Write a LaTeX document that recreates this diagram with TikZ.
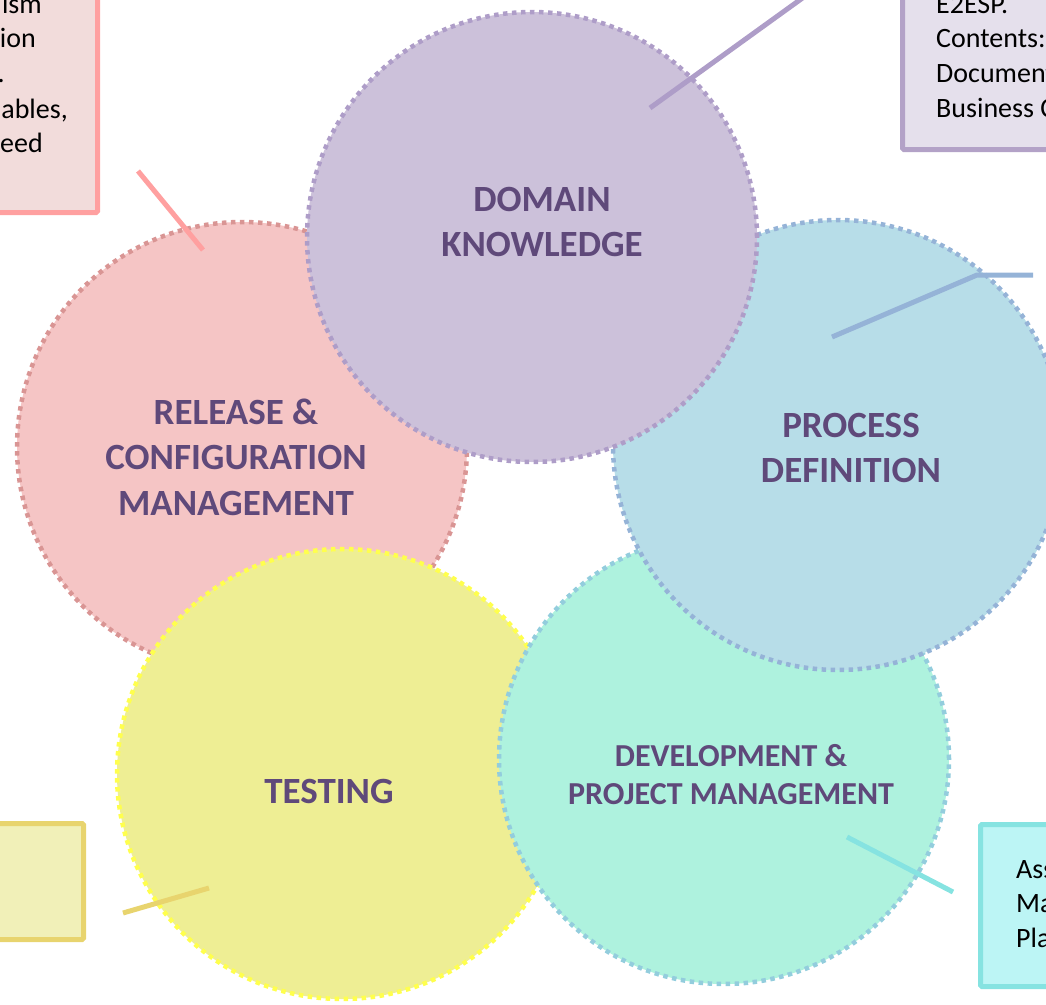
\documentclass[tikz,border=0pt]{standalone}
\usepackage{fontspec}
\setmainfont{Carlito}
\definecolor{txtc}{HTML}{5F497A}
\definecolor{pinkf}{HTML}{F2DCDB}
\definecolor{pinkb}{HTML}{FFA0A0}
\definecolor{purpf}{HTML}{E5E0EC}
\definecolor{purpb}{HTML}{B3A2C7}
\definecolor{cyanf}{HTML}{BCF5F5}
\definecolor{cyanb}{HTML}{86E3E1}
\definecolor{yelf}{HTML}{F1F0B8}
\definecolor{yelb}{HTML}{E8D46E}
\definecolor{domf}{HTML}{CCC1DA}
\definecolor{domb}{HTML}{AE9DC8}
\definecolor{relf}{HTML}{F5C5C5}
\definecolor{relb}{HTML}{D99594}
\definecolor{procf}{HTML}{B7DDE8}
\definecolor{procb}{HTML}{95B3D7}
\definecolor{devf}{HTML}{AEF2DE}
\definecolor{devb}{HTML}{93CDDD}
\definecolor{testf}{HTML}{EEEE94}
\definecolor{testb}{HTML}{FFFF4D}
\begin{document}
\begin{tikzpicture}[x=1pt,y=-1pt,
  circ/.style={circle, minimum size=450pt, inner sep=0pt, line width=4.5pt, dash pattern=on 4.5pt off 4.5pt},
  lbl/.style={text=txtc, font=\fontsize{37}{45.5}\selectfont\bfseries, align=center, inner sep=0pt},
  lbls/.style={text=txtc, font=\fontsize{32}{38}\selectfont\bfseries, align=center, inner sep=0pt},
  callout/.style={line width=5pt, rounded corners=1.5pt, inner sep=0pt},
  lead/.style={line width=5pt},
  ct/.style={font=\fontsize{28}{35}\selectfont, text=black, inner sep=0pt}
]
\useasboundingbox (0,0) rectangle (1046,1004);
\clip (0,0) rectangle (1046,1004);

% callout boxes
\node[callout, draw=pinkb, fill=pinkf, minimum width=300pt, minimum height=320pt, anchor=south east] (bRel) at (100,215) {};
\node[callout, draw=purpb, fill=purpf, minimum width=300pt, minimum height=300pt, anchor=south west] (bDom) at (900,152) {};
\node[callout, draw=cyanb, fill=cyanf, minimum width=200pt, minimum height=162pt, anchor=north west] (bDev) at (978,822) {};
\node[callout, draw=yelb, fill=yelf, minimum width=200pt, minimum height=116pt, anchor=north east] (bTest) at (86,821) {};

% callout texts
\node[ct, anchor=base east] (r1) at (42,13) {ism};
\node[ct, anchor=base east] (r2) at (36,47) {ion};
\node[ct, anchor=base east] (r3) at (5,82) {.};
\node[ct, anchor=base east] (r4) at (68,118) {ables,};
\node[ct, anchor=base east] (r5) at (43,152) {eed};

\node[ct, anchor=base west] (d1) at (936,13) {E2ESP.};
\node[ct, anchor=base west] (d2) at (936,47) {Contents:};
\node[ct, anchor=base west] (d3) at (936,82) {Documents};
\node[ct, anchor=base west] (d4) at (936,117) {Business C};

\node[ct, anchor=base west] (p1) at (1016,878) {Ass};
\node[ct, anchor=base west] (p2) at (1016,912) {Ma};
\node[ct, anchor=base west] (p3) at (1016,947) {Pla};

% circles (drawing order matters)
\node[circ, fill=relf, draw=relb] (cRel) at (242,447) {};
\node[circ, fill=testf, draw=testb] (cTest) at (342,774) {};
\node[circ, fill=devf, draw=devb] (cDev) at (724,759) {};
\node[circ, fill=procf, draw=procb] (cProc) at (838,445) {};
\node[circ, fill=domf, draw=domb] (cDom) at (532,237) {};

% labels
\node[lbl] (tDom) at (542,222) {DOMAIN\\KNOWLEDGE};
\node[lbl] (tRel) at (236,457) {RELEASE \&\\CONFIGURATION\\MANAGEMENT};
\node[lbl] (tProc) at (851,448) {PROCESS\\DEFINITION};
\node[lbls] (tDev) at (731,775) {DEVELOPMENT \&\\PROJECT MANAGEMENT};
\node[lbl] (tTest) at (329,791) {TESTING};

% leader lines
\coordinate (lr1) at (138,171);
\coordinate (lr2) at (203,250);
\coordinate (ld1) at (650,108);
\coordinate (ld2) at (815,-11);
\coordinate (lp1) at (832,337);
\coordinate (lp2) at (977,275);
\coordinate (lp3) at (1033,275);
\coordinate (lv1) at (847,837);
\coordinate (lv2) at (953,892);
\coordinate (lt1) at (123,913);
\coordinate (lt2) at (209,888);

\draw[lead, draw=pinkb] (lr1) -- (lr2);
\draw[lead, draw=domb] (ld1) -- (ld2);
\draw[lead, draw=procb] (lp1) -- (lp2) -- (lp3);
\draw[lead, draw=cyanb] (lv1) -- (lv2);
\draw[lead, draw=yelb] (lt1) -- (lt2);
\end{tikzpicture}
\end{document}
